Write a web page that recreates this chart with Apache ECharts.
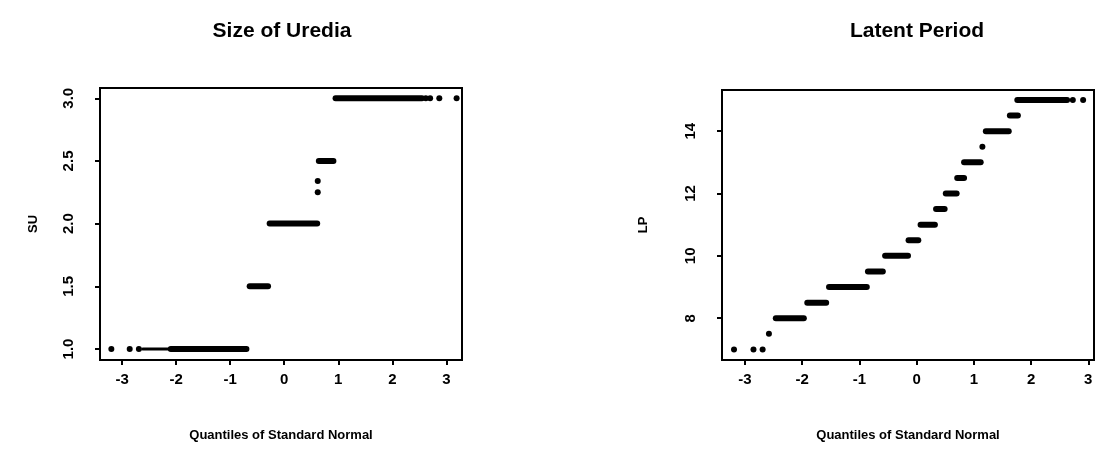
<!DOCTYPE html>
<html>
<head>
<meta charset="utf-8">
<script src="https://cdn.jsdelivr.net/npm/echarts@6/dist/echarts.min.js"></script>
<style>
html,body{margin:0;padding:0;background:#fff;}
#c{width:1096px;height:449px;}
</style>
</head>
<body>
<div id="c"></div>
<script>
// ---- data ----
var xTicks = [-3, -2, -1, 0, 1, 2, 3];
var suTicks = [1.0, 1.5, 2.0, 2.5, 3.0];
var lpTicks = [8, 10, 12, 14];

// Size of Uredia: dense runs of tied values [start quantile, end quantile, SU]
var suRunStart = [-2.10, -0.64, -0.27, 0.64, 0.95];
var suRunEnd   = [-0.70, -0.30,  0.61, 0.91, 2.55];
var suRunValue = [ 1.0,   1.5,   2.0,  2.5,  3.0];
// sparse (thin) stretch of the lowest run
var suSparseStart = [-2.62];
var suSparseEnd   = [-2.10];
var suSparseValue = [1.0];
// isolated points
var suDotX = [-3.20, -2.86, -2.69, 0.62, 0.62, 2.62, 2.70, 2.87, 3.19];
var suDotY = [ 1.0,   1.0,   1.0,  2.25, 2.34, 3.0,  3.0,  3.0,  3.0];

// Latent Period: dense runs
var lpRunStart = [-2.46, -1.91, -1.53, -0.85, -0.55, -0.14, 0.07, 0.34, 0.51, 0.71, 0.83, 1.21, 1.63, 1.76];
var lpRunEnd   = [-1.97, -1.58, -0.87, -0.59, -0.15,  0.03, 0.32, 0.49, 0.70, 0.83, 1.12, 1.61, 1.77, 2.63];
var lpRunValue = [ 8.0,   8.5,   9.0,   9.5,  10.0,  10.5, 11.0, 11.5, 12.0, 12.5, 13.0, 14.0, 14.5, 15.0];
var lpDotX = [-3.19, -2.85, -2.69, -2.58, 1.15, 2.73, 2.91];
var lpDotY = [ 7.0,   7.0,   7.0,   7.5, 13.5, 15.0, 15.0];

// ---- chart ----
var FONT = 'Liberation Sans, Arial, sans-serif';
var chart = echarts.init(document.getElementById('c'), null, {renderer: 'canvas'});

function runSeries(starts, ends, vals, idx, width) {
  return starts.map(function (s, i) {
    return {
      type: 'line', xAxisIndex: idx, yAxisIndex: idx,
      data: [[s, vals[i]], [ends[i], vals[i]]],
      showSymbol: false, silent: true,
      lineStyle: {color: '#000', width: width, cap: 'round', opacity: 1},
      z: 3
    };
  });
}
function dotSeries(xs, ys, idx) {
  return {
    type: 'scatter', xAxisIndex: idx, yAxisIndex: idx,
    data: xs.map(function (x, i) { return [x, ys[i]]; }),
    symbol: 'circle', symbolSize: 6,
    itemStyle: {color: '#000', opacity: 1}, silent: true, z: 4
  };
}
function xAxis(idx, min, max) {
  return {
    type: 'value', gridIndex: idx, min: min, max: max,
    name: 'Quantiles of Standard Normal', nameLocation: 'middle', nameGap: 69,
    nameTextStyle: {fontFamily: FONT, fontWeight: 'bold', fontSize: 13, color: '#000'},
    axisLine: {show: false, onZero: false},
    axisTick: {show: true, length: 5, inside: false, customValues: xTicks, lineStyle: {color: '#000', width: 2}},
    axisLabel: {show: true, customValues: xTicks, margin: 12, fontFamily: FONT, fontWeight: 'bold', fontSize: 15, color: '#000'},
    splitLine: {show: false}
  };
}
function yAxis(idx, min, max, ticks, name, gap, fmt) {
  return {
    type: 'value', gridIndex: idx, min: min, max: max,
    name: name, nameLocation: 'middle', nameGap: gap, nameRotate: 90,
    nameTextStyle: {fontFamily: FONT, fontWeight: 'bold', fontSize: 13, color: '#000'},
    axisLine: {show: false, onZero: false},
    axisTick: {show: true, length: 5, customValues: ticks, lineStyle: {color: '#000', width: 2}},
    axisLabel: {show: true, customValues: ticks, rotate: 90, margin: 24, formatter: fmt,
      fontFamily: FONT, fontWeight: 'bold', fontSize: 15, color: '#000'},
    splitLine: {show: false}
  };
}

var series = []
  .concat(runSeries(suRunStart, suRunEnd, suRunValue, 0, 6))
  .concat(runSeries(suSparseStart, suSparseEnd, suSparseValue, 0, 3))
  .concat([dotSeries(suDotX, suDotY, 0)])
  .concat(runSeries(lpRunStart, lpRunEnd, lpRunValue, 1, 6))
  .concat([dotSeries(lpDotX, lpDotY, 1)]);

chart.setOption({
  animation: false,
  backgroundColor: '#fff',
  title: [
    {text: 'Size of Uredia', left: 277, top: 16, textAlign: 'center',
     textStyle: {fontFamily: FONT, fontWeight: 'bold', fontSize: 21, color: '#000'}},
    {text: 'Latent Period', left: 912, top: 16, textAlign: 'center',
     textStyle: {fontFamily: FONT, fontWeight: 'bold', fontSize: 21, color: '#000'}}
  ],
  grid: [
    {left: 100, right: 634, top: 88, bottom: 89, show: true, borderColor: '#000', borderWidth: 2, backgroundColor: 'transparent'},
    {left: 722, right: 2, top: 90, bottom: 89, show: true, borderColor: '#000', borderWidth: 2, backgroundColor: 'transparent'}
  ],
  xAxis: [xAxis(0, -3.41, 3.29), xAxis(1, -3.40, 3.10)],
  yAxis: [
    yAxis(0, 0.912, 3.082, suTicks, 'SU', 60, function (v) { return v.toFixed(1); }),
    yAxis(1, 6.66, 15.32, lpTicks, 'LP', 72, function (v) { return String(v); })
  ],
  series: series
});
</script>
</body>
</html>
